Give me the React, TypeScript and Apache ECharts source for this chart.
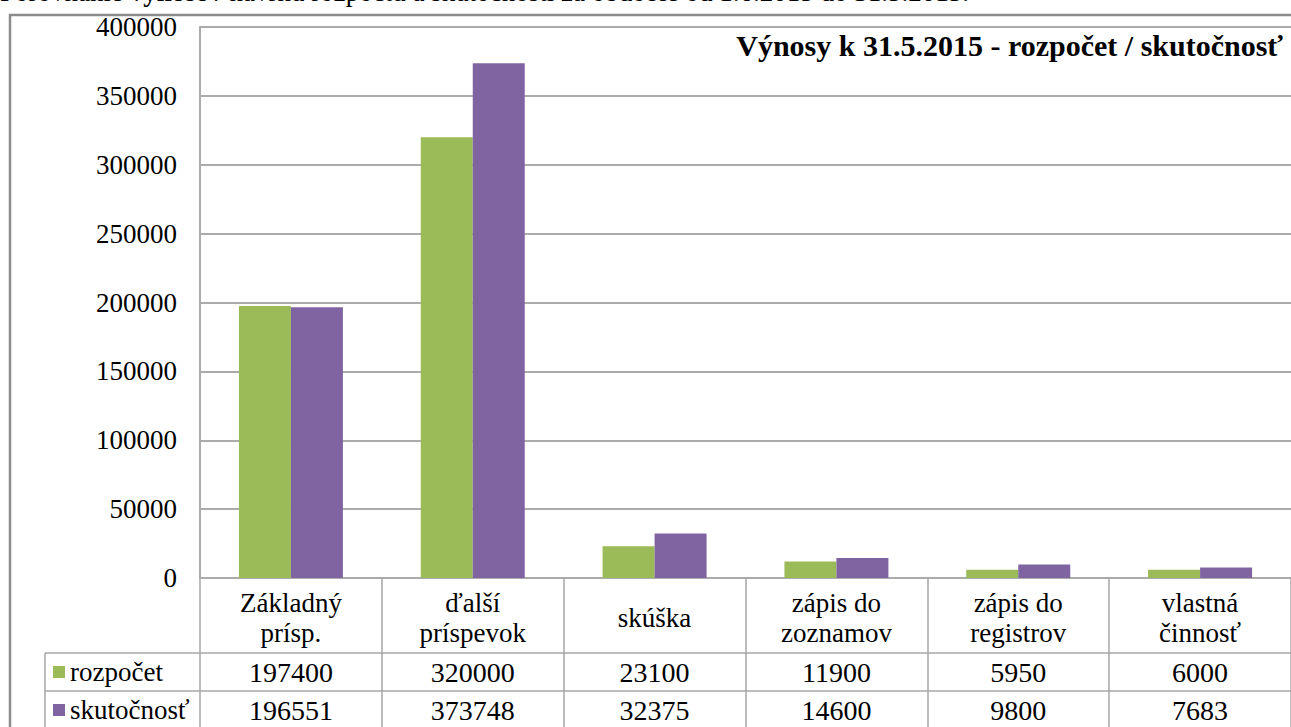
import React, { useEffect, useRef } from "react";
import * as echarts from "echarts";

const categories = [
  "Základný\nprísp.",
  "ďalší\npríspevok",
  "skúška",
  "zápis do\nzoznamov",
  "zápis do\nregistrov",
  "vlastná\nčinnosť",
];
const seriesNames = ["rozpočet", "skutočnosť"];
const rozpocet = [197400, 320000, 23100, 11900, 5950, 6000];
const skutocnost = [196551, 373748, 32375, 14600, 9800, 7683];
const seriesColors = ["#9BBB59", "#8064A2"];
const yMin = 0;
const yMax = 400000;
const yInterval = 50000;
const chartTitle = "Výnosy k 31.5.2015 - rozpočet / skutočnosť";
const docTitleParts = ["Porovnanie ", "výnosov", " návrhu rozpočtu a skutočnosti za obdobie od 1.6.2015 do 31.5.2015."];

const FONT = "Liberation Serif";
const FS = 27;
const GRID_COLOR = "#ABABAB";
const TABLE_COLOR = "#A6A6A6";

export default function App() {
  const ref = useRef<HTMLDivElement>(null);

  useEffect(() => {
    if (!ref.current) return;
    const chart = echarts.init(ref.current, null, { renderer: "svg" });
    const gridLeft = 200;
    const gridTop = 27;
    const gridBottomY = 578;
    chart.setOption({
      animation: false,
      backgroundColor: "#ffffff",
      textStyle: { fontFamily: FONT },
      title: {
        text: chartTitle,
        right: 8,
        top: 30,
        padding: 0,
        textStyle: { fontFamily: FONT, fontSize: 30, fontWeight: "bold", color: "#000" },
      },
      grid: { left: gridLeft, top: gridTop, right: 0, bottom: 727 - gridBottomY, containLabel: false },
      xAxis: {
        type: "category",
        data: categories,
        axisLine: { show: true, lineStyle: { color: GRID_COLOR, width: 2 } },
        axisTick: {
          show: true,
          inside: false,
          length: 727 - gridBottomY,
          alignWithLabel: false,
          interval: 0,
          lineStyle: { color: TABLE_COLOR, width: 1.5 },
        },
        axisLabel: {
          interval: 0,
          margin: 40,
          verticalAlign: "middle",
          color: "#000",
          fontFamily: FONT,
          fontSize: FS,
          lineHeight: 30,
          align: "center",
        },
      },
      yAxis: {
        type: "value",
        min: yMin,
        max: yMax,
        interval: yInterval,
        axisLine: { show: true, lineStyle: { color: GRID_COLOR, width: 2 } },
        axisTick: { show: false },
        splitLine: { show: true, lineStyle: { color: GRID_COLOR, width: 2 } },
        axisLabel: {
          color: "#000",
          fontFamily: FONT,
          fontSize: FS,
          margin: 23,
          formatter: (v: number) => String(v),
        },
      },
      series: [
        {
          name: seriesNames[0],
          type: "bar",
          data: rozpocet,
          barWidth: 52,
          barGap: "0%",
          itemStyle: { color: seriesColors[0] },
        },
        {
          name: seriesNames[1],
          type: "bar",
          data: skutocnost,
          barWidth: 52,
          barGap: "0%",
          itemStyle: { color: seriesColors[1] },
        },
      ],
    });

    const xs = categories.map((_, i) => chart.convertToPixel({ xAxisIndex: 0 }, i) as number);
    const zeroY = chart.convertToPixel({ yAxisIndex: 0 }, 0) as number;
    const row1Top = zeroY + 75;
    const row2Top = row1Top + 38;
    const rowH = 38;
    const legendLeft = 45;
    const rows = [rozpocet, skutocnost];
    const elements: any[] = [];

    elements.push({
      type: "rect",
      shape: { x: 10, y: 15, width: 1400, height: 800 },
      style: { fill: "none", stroke: "#8C8C8C", lineWidth: 2.5 },
      silent: true,
    });
    elements.push({
      type: "text",
      x: 0,
      y: -8,
      style: {
        text: `{n|${docTitleParts[0]}}{b|${docTitleParts[1]}}{n|${docTitleParts[2]}}`,
        verticalAlign: "middle",
        rich: {
          n: { fontFamily: FONT, fontSize: FS, fill: "#000" },
          b: { fontFamily: FONT, fontSize: FS, fontWeight: "bold", fill: "#000" },
        },
      },
      silent: true,
    });
    [row1Top, row2Top, row2Top + rowH].forEach((y) => {
      elements.push({
        type: "line",
        shape: { x1: legendLeft, y1: y, x2: 1291, y2: y },
        style: { stroke: TABLE_COLOR, lineWidth: 1.5 },
        silent: true,
      });
    });
    elements.push({
      type: "line",
      shape: { x1: legendLeft, y1: row1Top, x2: legendLeft, y2: 727 },
      style: { stroke: TABLE_COLOR, lineWidth: 1.5 },
      silent: true,
    });
    rows.forEach((vals, r) => {
      const cy = (r === 0 ? row1Top : row2Top) + rowH / 2;
      elements.push({
        type: "rect",
        shape: { x: 53, y: cy - 6, width: 12, height: 12 },
        style: { fill: seriesColors[r] },
        silent: true,
      });
      elements.push({
        type: "text",
        x: 70,
        y: cy,
        style: {
          text: seriesNames[r],
          fontFamily: FONT,
          fontSize: FS,
          fill: "#000",
          align: "left",
          verticalAlign: "middle",
        },
        silent: true,
      });
      vals.forEach((v, i) => {
        elements.push({
          type: "text",
          x: xs[i],
          y: cy,
          style: {
            text: String(v),
            fontFamily: FONT,
            fontSize: 28,
            fill: "#000",
            align: "center",
            verticalAlign: "middle",
          },
          silent: true,
        });
      });
    });
    chart.setOption({ graphic: elements });

    return () => chart.dispose();
  }, []);

  return (
    <div
      ref={ref}
      style={{ position: "absolute", left: 0, top: 0, width: 1291, height: 727, background: "#fff" }}
    />
  );
}
